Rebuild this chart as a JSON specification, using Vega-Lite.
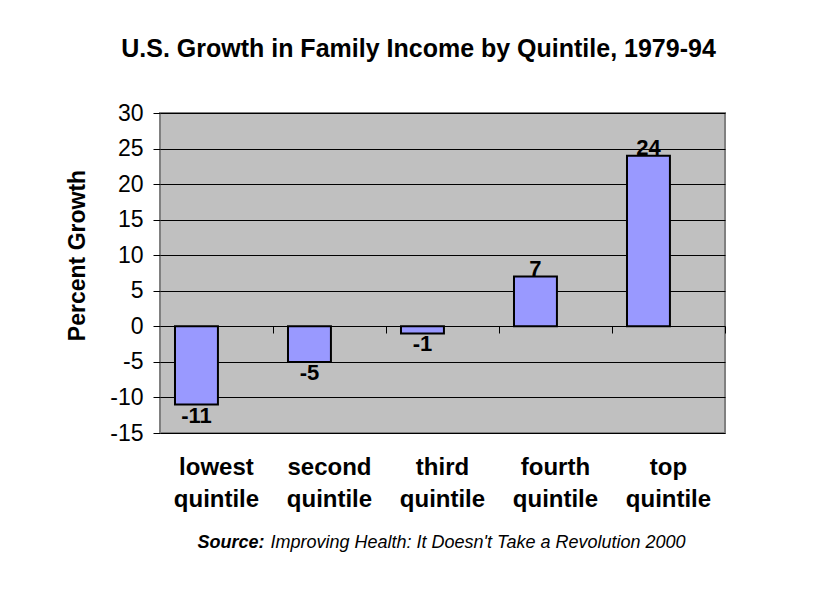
{
  "$schema": "https://vega.github.io/schema/vega-lite/v6.json",
  "width": 565,
  "height": 320,
  "autosize": {"type": "none"},
  "padding": {"left": 160, "top": 113, "right": 96, "bottom": 169},
  "background": "white",
  "title": {
    "text": "U.S. Growth in Family Income by Quintile, 1979-94",
    "font": "Liberation Sans",
    "fontSize": 25,
    "fontWeight": "bold",
    "color": "black",
    "anchor": "middle",
    "frame": "group",
    "dx": -24,
    "offset": 40
  },
  "data": {
    "values": [
      {"quintile": "lowest quintile", "growth": -11},
      {"quintile": "second quintile", "growth": -5},
      {"quintile": "third quintile", "growth": -1},
      {"quintile": "fourth quintile", "growth": 7},
      {"quintile": "top quintile", "growth": 24}
    ]
  },
  "encoding": {
    "x": {
      "field": "quintile",
      "type": "nominal",
      "sort": null,
      "scale": {"paddingInner": 0.62, "paddingOuter": 0.31, "align": 0.214},
      "axis": null
    },
    "y": {
      "field": "growth",
      "type": "quantitative",
      "scale": {"domain": [-15, 30], "nice": false, "zero": false},
      "axis": {
        "values": [-15, -10, -5, 0, 5, 10, 15, 20, 25, 30],
        "labelExpr": "'' + datum.value",
        "title": "Percent Growth",
        "titleFont": "Liberation Sans",
        "titleFontSize": 23,
        "titleFontWeight": "bold",
        "titleColor": "black",
        "titleY": 142,
        "titlePadding": 20,
        "labelFont": "Liberation Sans",
        "labelFontSize": 23,
        "labelColor": "black",
        "labelPadding": 10,
        "tickSize": 7,
        "tickColor": "black",
        "domain": false,
        "grid": true,
        "gridColor": "black",
        "gridOpacity": 1,
        "gridWidth": 1
      }
    }
  },
  "layer": [
    {
      "mark": {"type": "bar", "fill": "#9999FF", "stroke": "black", "strokeWidth": 2},
      "encoding": {
        "x": {
          "field": "quintile",
          "type": "nominal",
          "sort": null,
          "axis": {
            "orient": "bottom",
            "labelAngle": 0,
            "labelExpr": "split(datum.value, ' ')",
            "labelFont": "Liberation Sans",
            "labelFontSize": 24,
            "labelFontWeight": "bold",
            "labelColor": "black",
            "labelLineHeight": 32,
            "labelPadding": 22,
            "labelOffset": 20,
            "ticks": false,
            "domain": false,
            "title": "Source:",
            "titleFont": "Liberation Sans",
            "titleFontSize": 18,
            "titleFontStyle": "italic",
            "titleFontWeight": "bold",
            "titleColor": "black",
            "titleAlign": "left",
            "titleAnchor": "start",
            "titleBaseline": "alphabetic",
            "titleX": 37,
            "titleY": 114
          }
        },
        "y2": {"datum": 0}
      }
    },
    {
      "transform": [{"filter": "datum.growth >= 0"}],
      "mark": {"type": "text", "baseline": "alphabetic", "dy": -1, "font": "Liberation Sans", "fontSize": 22, "fontWeight": "bold", "color": "black"},
      "encoding": {
        "x": {
          "field": "quintile",
          "type": "nominal",
          "sort": null,
          "axis": {
            "orient": "bottom",
            "offset": -107,
            "labels": false,
            "ticks": true,
            "bandPosition": 0.5,
            "tickOffset": 77,
            "tickSize": 7,
            "tickColor": "black",
            "tickWidth": 1,
            "domain": false,
            "title": null,
            "zindex": 1
          }
        },
        "text": {"field": "growth", "type": "nominal"}
      }
    },
    {
      "transform": [{"filter": "datum.growth < 0"}],
      "mark": {"type": "text", "baseline": "top", "dy": 1, "font": "Liberation Sans", "fontSize": 22, "fontWeight": "bold", "color": "black"},
      "encoding": {
        "x": {
          "field": "quintile",
          "type": "nominal",
          "sort": null,
          "axis": {
            "orient": "bottom",
            "labels": false,
            "ticks": false,
            "domain": false,
            "title": "Improving Health: It Doesn't Take a Revolution  2000",
            "titleFont": "Liberation Sans",
            "titleFontSize": 18,
            "titleFontStyle": "italic",
            "titleFontWeight": "normal",
            "titleColor": "black",
            "titleAlign": "left",
            "titleAnchor": "start",
            "titleBaseline": "alphabetic",
            "titleX": 110,
            "titleY": 114
          }
        },
        "text": {"field": "growth", "type": "nominal"}
      }
    }
  ],
  "resolve": {"axis": {"x": "independent"}},
  "config": {
    "view": {"fill": "#C0C0C0", "stroke": "#808080", "strokeWidth": 2},
    "axis": {"labelFont": "Liberation Sans", "titleFont": "Liberation Sans"}
  }
}
